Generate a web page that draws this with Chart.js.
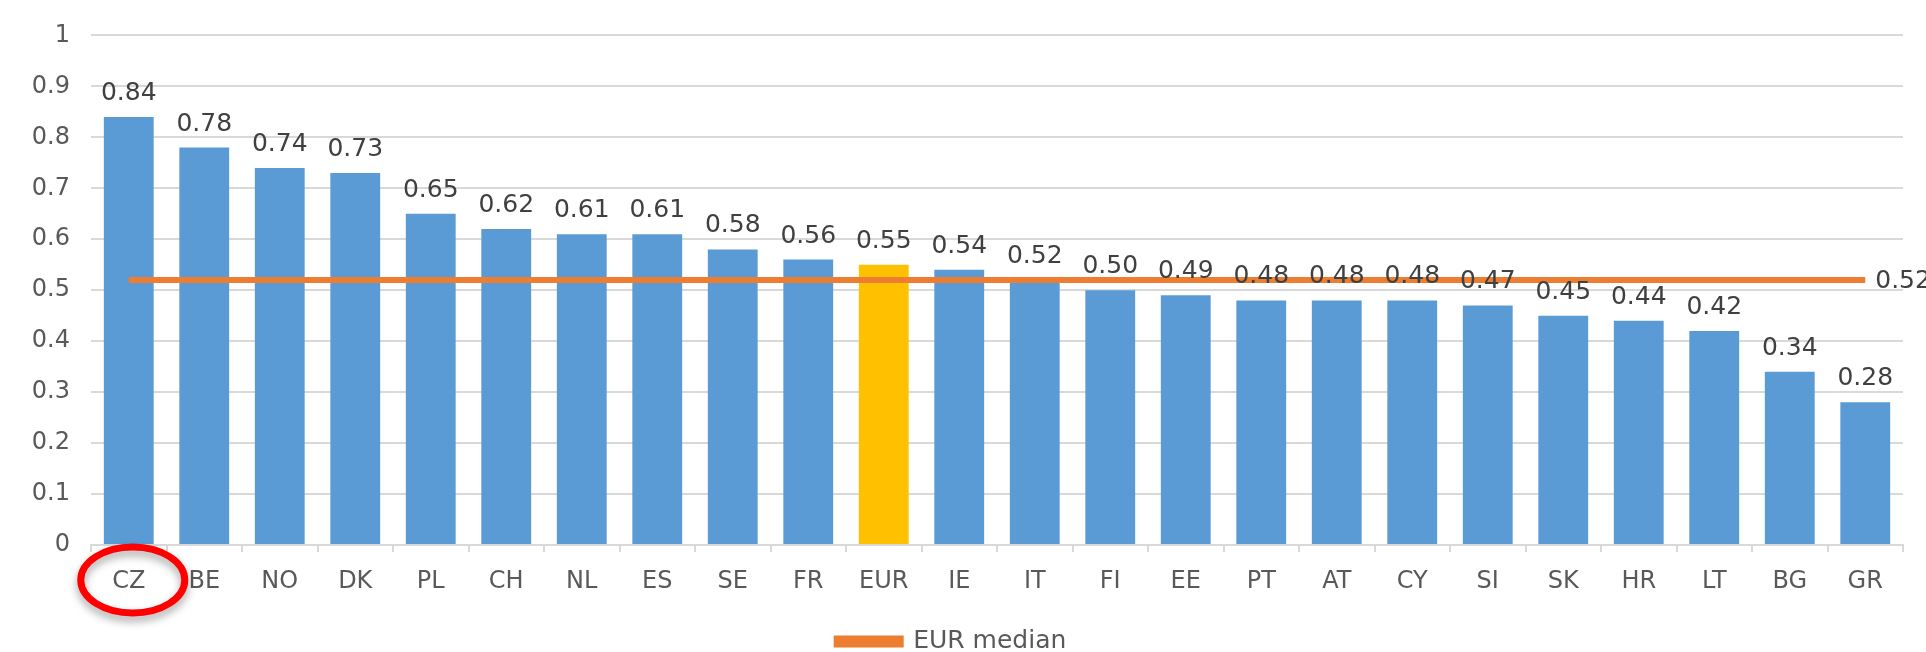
<!DOCTYPE html>
<html>
<head>
<meta charset="utf-8">
<script src="https://cdn.jsdelivr.net/npm/chart.js@4/dist/chart.umd.min.js"></script>
<style>
  body { margin: 0; background: #ffffff; }
  #wrap { width: 1926px; height: 652px; }
</style>
</head>
<body>
<div id="wrap"><canvas id="chart"></canvas></div>
<script>
const countries = ["CZ", "BE", "NO", "DK", "PL", "CH", "NL", "ES", "SE", "FR", "EUR", "IE",
  "IT", "FI", "EE", "PT", "AT", "CY", "SI", "SK", "HR", "LT", "BG", "GR"];
const values = [0.84, 0.78, 0.74, 0.73, 0.65, 0.62, 0.61, 0.61, 0.58, 0.56, 0.55, 0.54,
  0.52, 0.50, 0.49, 0.48, 0.48, 0.48, 0.47, 0.45, 0.44, 0.42, 0.34, 0.28];
const medianValue = 0.52;
const medianLabel = "EUR median";
const highlight = "EUR";
const circled = "CZ";

const FONT = "'DejaVu Sans', 'Liberation Sans', sans-serif";
const blue = "#5b9bd5";
const gold = "#ffc000";
const orange = "#ed7d31";

// value labels above bars and at the end of the median line
const valueLabels = {
  id: "valueLabels",
  afterDatasetsDraw(chart) {
    const ctx = chart.ctx;
    ctx.save();
    ctx.font = "25px " + FONT;
    ctx.fillStyle = "#404040";
    ctx.textAlign = "center";
    ctx.textBaseline = "alphabetic";
    const barMeta = chart.getDatasetMeta(1);
    barMeta.data.forEach((bar, i) => {
      ctx.fillText(values[i].toFixed(2), bar.x, bar.y - 17);
    });
    const lineMeta = chart.getDatasetMeta(0);
    const last = lineMeta.data[lineMeta.data.length - 1];
    ctx.textAlign = "left";
    ctx.textBaseline = "middle";
    ctx.fillText(medianValue.toFixed(2), last.x + 10, last.y + 1);
    ctx.restore();
  },
};

// red ring drawn round the first category label
const ringLabel = {
  id: "ringLabel",
  afterDraw(chart) {
    const ctx = chart.ctx;
    const xs = chart.scales.x;
    const idx = countries.indexOf(circled);
    const cx = xs.getPixelForValue(idx) + 4;
    const cy = chart.chartArea.bottom + 35;
    ctx.save();
    ctx.shadowColor = "rgba(0,0,0,0.35)";
    ctx.shadowBlur = 8;
    ctx.shadowOffsetY = 5;
    ctx.strokeStyle = "#ff0000";
    ctx.lineWidth = 7;
    ctx.beginPath();
    ctx.ellipse(cx, cy, 52, 33, 0, 0, Math.PI * 2);
    ctx.stroke();
    ctx.restore();
  },
};

new Chart(document.getElementById("chart"), {
  type: "bar",
  data: {
    labels: countries,
    datasets: [
      {
        type: "line",
        label: medianLabel,
        data: countries.map(() => medianValue),
        borderColor: orange,
        backgroundColor: orange,
        borderWidth: 6,
        pointRadius: 0,
        fill: false,
      },
      {
        label: "value",
        data: values,
        backgroundColor: countries.map((c) => (c === highlight ? gold : blue)),
        barPercentage: 0.66,
        categoryPercentage: 1,
      },
    ],
  },
  options: {
    responsive: true,
    maintainAspectRatio: false,
    animation: false,
    layout: { padding: { top: 32, right: 23, left: 0, bottom: -12 } },
    scales: {
      x: {
        afterFit: (s) => { s.height = 80; },
        grid: {
          offset: true,
          drawOnChartArea: false,
          drawTicks: true,
          tickLength: 7,
          color: "#d9d9d9",
          lineWidth: 2,
        },
        border: { display: true, color: "#d9d9d9", width: 2 },
        ticks: {
          color: "#595959",
          font: { family: FONT, size: 24 },
          padding: 15,
          maxRotation: 0,
          autoSkip: false,
        },
      },
      y: {
        min: 0,
        max: 1,
        afterFit: (s) => { s.width = 91; },
        grid: { color: "#d9d9d9", lineWidth: 2, drawTicks: false },
        border: { display: false },
        ticks: {
          stepSize: 0.1,
          color: "#595959",
          font: { family: FONT, size: 24 },
          padding: 21,
          callback: (v) => String(Number(v.toFixed(1))),
        },
      },
    },
    plugins: {
      legend: {
        position: "bottom",
        labels: {
          filter: (item) => item.text === medianLabel,
          boxWidth: 64,
          boxHeight: 6,
          padding: 4,
          color: "#595959",
          font: { family: FONT, size: 25 },
        },
      },
      tooltip: { enabled: false },
    },
  },
  plugins: [valueLabels, ringLabel],
});
</script>
</body>
</html>
